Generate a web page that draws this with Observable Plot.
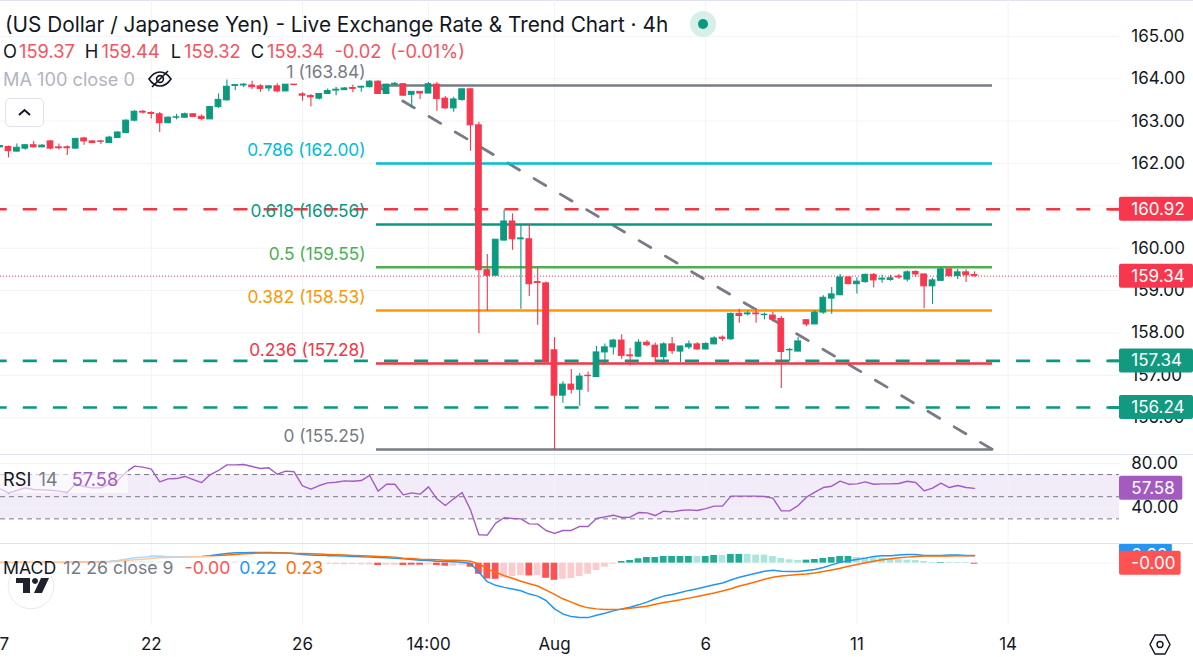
<!DOCTYPE html>
<html>
<head>
<meta charset="utf-8">
<script src="https://cdn.jsdelivr.net/npm/d3@7"></script>
<script src="https://cdn.jsdelivr.net/npm/@observablehq/plot@0.6"></script>
<style>
html,body{margin:0;padding:0;background:#fff;width:1193px;height:657px;overflow:hidden}
body{position:relative;font-family:Inter,"Noto Sans",sans-serif;color:#131722}
.pane{position:absolute;left:0;width:1193px}
.pane svg{display:block}
.t{position:absolute;white-space:nowrap;transform:translateY(-50%);line-height:1}
.sep{position:absolute;left:0;width:1193px;height:1px;background:#e0e3eb}
.d{color:#131722}
</style>
</head>
<body>
<div class="sep" style="top:0"></div>
<div id="price" class="pane" style="top:0"></div>
<div id="rsi" class="pane" style="top:455px"></div>
<div id="macd" class="pane" style="top:544px"></div>
<div class="sep" style="top:454px"></div>
<div class="sep" style="top:543px"></div>

<div class="t" style="left:5px;top:25px;font-size:20.8px">(US Dollar / Japanese Yen) - Live Exchange Rate &amp; Trend Chart · 4h</div>
<svg style="position:absolute;left:689px;top:10px" width="28" height="28"><circle cx="14" cy="14" r="13" fill="#d6efe9"/><circle cx="14" cy="14" r="5" fill="#089981"/></svg>
<div class="t" style="left:3px;top:51px;font-size:18.3px;color:#f7525f"><span class="d">O</span><span style="margin-left:2px">159.37</span><span class="d" style="margin-left:10px">H</span><span style="margin-left:3px">159.44</span><span class="d" style="margin-left:11px">L</span><span style="margin-left:3px">159.32</span><span class="d" style="margin-left:10px">C</span><span style="margin-left:3px">159.34</span><span style="margin-left:10px">-0.02</span><span style="margin-left:9px">(-0.01%)</span></div>
<div class="t" style="left:3px;top:79px;font-size:18.2px;color:#b2b5be">MA 100 close 0</div>
<svg style="position:absolute;left:147px;top:69px" width="26" height="20" fill="none" stroke="#131722" stroke-width="1.6"><path d="M2 10C6 4 10 3 13 3s7 1 11 7c-4 6-8 7-11 7s-7-1-11-7Z"/><circle cx="13" cy="10" r="3.4"/><path d="M5 18 21 2"/></svg>
<div style="position:absolute;left:5px;top:98px;width:37px;height:27px;border:1px solid #e0e3eb;border-radius:5px;background:#fff"></div>
<svg style="position:absolute;left:5px;top:98px" width="39" height="29" fill="none" stroke="#131722" stroke-width="2"><path d="M14 17 19.500 12 25 17"/></svg>
<div style="position:absolute;left:0;top:465px;width:128px;height:28px;background:rgba(255,255,255,.62)"></div>
<div class="t" style="left:3px;top:478.500px;font-size:18.3px;color:#787b86"><span class="d">RSI</span><span style="margin-left:7px">14</span><span style="margin-left:14px;color:#a35bc0">57.58</span></div>
<svg style="position:absolute;left:7px;top:562px" width="48" height="48"><circle cx="24" cy="24" r="22.8" fill="#fff" stroke="#e8eaee" stroke-width="1"/><path d="M9 16h14v15h-7V21H9Z M28 16a3 3 0 1 0 .01 0Z" fill="#1e222d"/><path d="M34 16h8l-7 15h-8Z" fill="#1e222d"/></svg>
<div style="position:absolute;left:0;top:556px;width:327px;height:20px;background:rgba(255,255,255,.62)"></div>
<div class="t" style="left:3px;top:567.500px;font-size:17.7px;color:#787b86"><span class="d">MACD</span><span style="margin-left:7px">12 26 close 9</span><span style="margin-left:11px;color:#ff5252">-0.00</span><span style="margin-left:9px;color:#2196f3">0.22</span><span style="margin-left:9px;color:#ff6d00">0.23</span></div>
<svg style="position:absolute;left:1149px;top:633px" width="22" height="23" fill="none" stroke="#131722" stroke-width="1.4"><path d="M6 2h10l5 9.500-5 9.500H6l-5-9.500Z"/><circle cx="11" cy="11.500" r="3"/></svg>

<script>
// 4h candles, first entry is the bar partly off the left edge
const opens=[162.38,162.39,162.28,162.35,162.43,162.38,162.52,162.38,162.38,162.35,162.59,162.52,162.52,162.48,162.60,162.72,163.01,163.22,163.19,163.16,162.95,163.08,163.08,163.16,163.10,163.04,163.33,163.49,163.83,163.84,163.84,163.82,163.77,163.82,163.70,163.86,163.63,163.59,163.53,163.64,163.72,163.73,163.78,163.79,163.80,163.93,163.64,163.86,163.87,163.62,163.69,163.65,163.86,163.53,163.30,163.50,163.75,162.90,159.48,159.35,160.18,160.63,160.21,160.21,159.20,159.17,157.59,156.52,156.78,156.66,156.99,156.96,157.54,157.66,157.82,157.47,157.44,157.77,157.70,157.43,157.73,157.56,157.66,157.73,157.61,157.73,157.89,157.85,158.45,158.44,158.46,158.42,158.41,158.33,157.59,157.56,158.30,158.20,158.48,158.81,158.89,159.31,159.15,159.20,159.37,159.26,159.25,159.33,159.26,159.44,159.38,159.10,159.23,159.50,159.34,159.43,159.37];
const highs=[162.42,162.41,162.46,162.45,162.52,162.45,162.54,162.46,162.42,162.59,162.62,162.54,162.55,162.64,162.75,163.03,163.25,163.25,163.22,163.20,163.10,163.16,163.19,163.18,163.15,163.35,163.64,163.97,163.86,163.89,163.94,163.86,163.84,163.88,163.86,163.86,163.67,163.63,163.65,163.76,163.80,163.79,163.85,163.82,163.96,163.95,163.87,163.91,163.88,163.70,163.70,163.91,163.91,163.58,163.56,163.76,163.76,162.97,159.85,160.20,160.89,160.81,160.56,160.56,159.52,159.20,157.89,156.85,157.14,157.04,157.08,157.68,157.74,157.85,157.96,157.63,157.84,157.82,157.76,157.77,157.89,157.69,157.81,157.77,157.77,157.91,157.93,158.47,158.56,158.51,158.57,158.47,158.48,158.39,157.63,157.89,158.31,158.53,158.88,159.07,159.38,159.32,159.30,159.39,159.40,159.36,159.36,159.38,159.47,159.47,159.39,159.29,159.54,159.51,159.50,159.49,159.44];
const lows=[162.37,162.13,162.27,162.31,162.37,162.37,162.32,162.32,162.19,162.35,162.43,162.47,162.45,162.47,162.59,162.71,162.98,163.17,163.05,162.73,162.94,163.03,163.08,163.09,163.01,163.04,163.30,163.47,163.72,163.79,163.74,163.68,163.69,163.67,163.70,163.85,163.47,163.33,163.50,163.63,163.60,163.72,163.67,163.68,163.78,163.63,163.63,163.82,163.58,163.30,163.51,163.65,163.23,163.28,163.21,163.47,162.29,157.98,158.51,159.35,160.17,159.95,158.56,158.86,158.18,157.32,155.24,156.34,156.56,156.27,156.60,156.95,157.25,157.48,157.38,157.22,157.43,157.68,157.29,157.28,157.49,157.30,157.61,157.59,157.60,157.72,157.80,157.82,158.23,158.40,158.23,158.31,158.26,156.69,157.33,157.55,158.15,158.20,158.44,158.44,158.88,159.14,158.92,159.17,159.06,159.17,159.22,159.26,159.20,159.32,158.57,158.67,159.22,159.33,159.26,159.19,159.32];
const closes=[162.41,162.29,162.37,162.43,162.38,162.42,162.35,162.36,162.36,162.58,162.52,162.48,162.51,162.61,162.73,163.01,163.22,163.20,163.17,162.95,163.08,163.09,163.16,163.10,163.05,163.33,163.50,163.81,163.85,163.86,163.80,163.76,163.82,163.70,163.86,163.85,163.60,163.56,163.64,163.71,163.74,163.77,163.76,163.81,163.93,163.64,163.86,163.88,163.60,163.69,163.65,163.87,163.52,163.30,163.51,163.75,162.90,159.48,159.35,160.20,160.63,160.21,160.23,159.15,159.18,157.32,156.52,156.78,156.66,156.97,156.98,157.54,157.66,157.82,157.46,157.45,157.77,157.71,157.43,157.73,157.57,157.68,157.73,157.61,157.74,157.87,157.86,158.45,158.40,158.46,158.44,158.43,158.32,157.55,157.60,157.80,158.20,158.48,158.83,158.91,159.31,159.15,159.21,159.37,159.24,159.28,159.29,159.31,159.43,159.38,159.10,159.24,159.50,159.34,159.43,159.36,159.34];

const rsiValues=[57.1,53.5,55.6,58.0,56.5,56.2,55.9,55.0,53.8,61.6,59.2,58.0,58.0,61.6,64.6,72.2,77.6,76.7,74.9,63.4,66.1,66.4,68.3,65.5,62.8,69.8,73.7,78.8,78.8,79.1,77.3,75.5,76.1,70.3,73.1,72.5,59.8,56.8,60.1,62.5,63.1,64.3,64.0,64.6,69.2,55.0,61.3,61.3,51.7,53.5,52.3,58.9,48.1,42.1,48.1,53.8,38.1,15.6,15.3,26.1,31.0,30.3,30.0,25.5,25.2,19.5,16.8,19.5,19.5,23.1,23.1,30.3,31.8,33.3,31.2,31.5,35.7,35.4,33.0,36.9,36.3,37.5,38.1,37.5,39.3,41.5,41.5,50.5,50.5,50.5,50.5,50.2,48.7,37.2,37.2,42.0,49.6,54.1,58.3,59.5,64.0,61.3,61.6,63.4,61.3,61.6,61.6,61.9,64.0,62.8,55.3,57.7,62.2,58.3,60.1,58.3,57.58];

const macdLine=[.03,.03,.03,.03,.03,.03,.03,.03,.03,.04,.04,.04,.05,.06,.08,.12,.16,.18,.20,.20,.19,.19,.19,.19,.20,.22,.26,.29,.31,.31,.32,.32,.32,.31,.30,.29,.26,.24,.23,.22,.22,.21,.20,.19,.18,.17,.16,.15,.13,.11,.09,.08,.06,.05,.04,.03,-.01,-.27,-.55,-.66,-.72,-.77,-.82,-.92,-.98,-1.11,-1.36,-1.51,-1.59,-1.62,-1.62,-1.55,-1.49,-1.42,-1.36,-1.31,-1.24,-1.16,-1.06,-.98,-.93,-.87,-.81,-.76,-.70,-.64,-.59,-.50,-.42,-.36,-.30,-.24,-.21,-.24,-.25,-.25,-.22,-.19,-.13,-.05,.03,.07,.11,.15,.20,.22,.22,.24,.26,.26,.23,.23,.23,.24,.24,.23,.22];
const signalLine=[.02,.02,.02,.02,.02,.02,.02,.02,.02,.03,.03,.03,.03,.04,.06,.08,.10,.12,.14,.16,.17,.18,.18,.19,.19,.20,.22,.24,.26,.28,.29,.30,.30,.30,.30,.29,.29,.28,.27,.26,.25,.24,.23,.22,.21,.20,.19,.18,.15,.14,.12,.11,.10,.09,.09,.08,.06,-.02,-.17,-.27,-.37,-.45,-.54,-.61,-.68,-.80,-.93,-1.06,-1.16,-1.26,-1.33,-1.36,-1.38,-1.38,-1.37,-1.34,-1.31,-1.28,-1.22,-1.17,-1.13,-1.09,-1.04,-.99,-.94,-.89,-.83,-.76,-.68,-.62,-.55,-.48,-.42,-.38,-.36,-.34,-.32,-.29,-.25,-.20,-.15,-.09,-.04,.01,.06,.10,.13,.16,.18,.20,.21,.21,.21,.21,.22,.22,.23];
const histogram=[.01,.01,.01,.01,.01,.01,.01,.01,.01,.01,.01,.01,.01,.02,.02,.04,.06,.06,.06,.04,.02,.01,.01,.01,.01,.02,.04,.05,.05,.03,.03,.02,.02,.01,.01,.01,-.02,-.03,-.04,-.04,-.04,-.05,-.04,-.05,-.05,-.07,-.06,-.06,-.07,-.06,-.06,-.05,-.07,-.09,-.09,-.07,-.12,-.33,-.47,-.48,-.44,-.40,-.37,-.38,-.37,-.45,-.51,-.48,-.46,-.40,-.33,-.22,-.12,-.03,.05,.08,.13,.17,.17,.20,.20,.20,.20,.20,.20,.23,.23,.26,.26,.26,.24,.24,.20,.14,.10,.08,.09,.11,.14,.17,.20,.20,.17,.16,.16,.14,.12,.10,.09,.08,.05,.02,.02,.02,.02,.02,-.03];
const histogramStrongBars=[44,47,48,49,51,52,55,56,57,58,62,64,65,73,74,75,76,77,78,79,80,81,83,84,86,87,95,96,97,98,99,100,111,115];

const fibLevels=[1,0.786,0.618,0.5,0.382,0.236,0];
const fibPrices=[163.84,162.00,160.56,159.55,158.53,157.28,155.25];
const fibColors=["#787b86","#00bcd4","#089981","#4caf50","#ff9800","#f23645","#787b86"];
const redLevels=[160.92];
const greenLevels=[157.34,156.24];
const lastPrice=159.34;
const priceTicks=[165,164,163,162,160,159,158,157,156];
const gridPrices=[165,164,163,162,161,160,159,158,157,156];
const rsiTicks=[80,40];
const rsiBands=[70,50,30];
const dateBars=[17,35,50,65,83,101,119];
const dateLabels=["22","26","14:00","Aug","6","11","14"];

const RED="#f7374d", GREEN="#0a9a80", GRID="#f2f3f7";
const W=1193;
const xDomain=[-0.952,141.07];
const paneEnd=132.26, axisStub=131.07, labelEnd=42.5, fibStart=43.81, fibEnd=117.14, textStart=133.67;
const font="Inter, 'Noto Sans', sans-serif";

const bars=opens.map((o,i)=>({k:i-1,o,h:highs[i],l:lows[i],c:closes[i],top:Math.max(o,closes[i]),bot:Math.min(o,closes[i])}));
const up=bars.filter(d=>d.c>=d.o), down=bars.filter(d=>d.c<d.o);
const fib=fibLevels.map((lv,i)=>({lv,p:fibPrices[i],col:fibColors[i],label:`${lv} (${fibPrices[i].toFixed(2)})`}));
const candle=(arr,col)=>[
  Plot.ruleX(arr,{x:"k",y1:"l",y2:"h",stroke:col,strokeWidth:1.1}),
  Plot.rect(arr,{x1:d=>d.k-.34,x2:d=>d.k+.34,y1:"bot",y2:"top",fill:col,stroke:col,strokeWidth:1})
];
const badge=(v,txt,col,half,end=141.07)=>[
  Plot.rect([v],{x1:paneEnd,x2:end,y1:d=>d-half,y2:d=>d+half,fill:col,rx:2}),
  Plot.text([txt],{x:textStart,y:v,text:d=>d,fill:"#fff",fontSize:17,textAnchor:"start"})
];
const base={width:W,marginTop:0,marginRight:0,marginBottom:0,marginLeft:0,style:{fontFamily:font,background:"transparent",overflow:"visible"}};
const axisText=(vals,fmt)=>Plot.text(vals,{x:textStart,y:d=>d,text:fmt,fill:"#131722",fontSize:17,textAnchor:"start"});

const pricePlot=Plot.plot({...base,height:454,
  x:{domain:xDomain,axis:null},y:{domain:[155.131,165.846],axis:null},
  marks:[
    Plot.ruleY(gridPrices,{x1:xDomain[0],x2:paneEnd,stroke:GRID,strokeWidth:1}),
    Plot.ruleX(dateBars,{stroke:GRID,strokeWidth:1}),
    Plot.ruleY([lastPrice],{x1:xDomain[0],x2:paneEnd,stroke:RED,strokeWidth:1,strokeDasharray:"1,2"}),
    Plot.ruleY(redLevels,{x1:xDomain[0],x2:paneEnd,stroke:"#f23645",strokeWidth:2.6,strokeDasharray:"14,16.1",strokeDashoffset:7.3}),
    Plot.ruleY(greenLevels,{x1:xDomain[0],x2:paneEnd,stroke:"#089981",strokeWidth:2.6,strokeDasharray:"14,16.1",strokeDashoffset:7.3}),
    Plot.ruleY(redLevels,{x1:axisStub,x2:paneEnd,stroke:"#f23645",strokeWidth:2.6}),
    Plot.ruleY(greenLevels,{x1:axisStub,x2:paneEnd,stroke:"#089981",strokeWidth:2.6}),
    Plot.line([{k:fibStart,p:163.84},{k:fibEnd,p:155.25}],{x:"k",y:"p",stroke:"#787b86",strokeWidth:2.8,strokeDasharray:"13.5,17",strokeDashoffset:0}),
    ...fib.map(f=>Plot.ruleY([f.p],{x1:fibStart,x2:fibEnd,stroke:f.col,strokeWidth:2.6})),
    Plot.text(fib,{x:labelEnd,y:"p",dy:-13,text:"label",fill:"col",fontSize:17.3,textAnchor:"end"}),
    ...candle(up,GREEN),...candle(down,RED),
    axisText(priceTicks,d=>d.toFixed(2)),
    ...badge(160.92,"160.92","#f7374d",.283),
    ...badge(159.34,"159.34","#f7374d",.283),
    ...badge(157.34,"157.34","#129a80",.283),
    ...badge(156.24,"156.24","#129a80",.283)
  ]});
document.getElementById("price").append(pricePlot);

const rsiData=rsiValues.map((v,i)=>({k:i-1,v}));
const rsiPlot=Plot.plot({...base,height:89,
  x:{domain:xDomain,axis:null},y:{domain:[6.83,87.23],axis:null},
  marks:[
    Plot.rect([0],{x1:xDomain[0],x2:paneEnd,y1:30,y2:70,fill:"#f2ecf8"}),
    Plot.ruleX(dateBars,{stroke:GRID,strokeWidth:1}),
    Plot.ruleY(rsiTicks,{x1:xDomain[0],x2:paneEnd,stroke:GRID,strokeWidth:1}),
    Plot.ruleY(rsiBands,{x1:xDomain[0],x2:paneEnd,stroke:"#787b86",strokeWidth:1,strokeDasharray:"5,4"}),
    Plot.line(rsiData,{x:"k",y:"v",stroke:"#a35bc0",strokeWidth:1.4}),
    axisText(rsiTicks,d=>d.toFixed(2)),
    ...badge(57.58,"57.58","#a35bc0",10.84,139.8)
  ]});
document.getElementById("rsi").append(rsiPlot);

const macdData=macdLine.map((v,i)=>({k:i-1,m:v,s:signalLine[i],h:histogram[i]}));
const strong=new Set(histogramStrongBars);
const histSet=(pred,col)=>Plot.rect(macdData.filter(pred),{x1:d=>d.k-.4,x2:d=>d.k+.4,y1:0,y2:"h",fill:col});
const macdPlot=Plot.plot({...base,height:113,
  x:{domain:xDomain,axis:null},y:{domain:[-2.807,.5557],axis:null},
  marks:[
    Plot.ruleX(dateBars,{y1:-1.855,y2:.5557,stroke:GRID,strokeWidth:1}),
    Plot.ruleY([0],{x1:xDomain[0],x2:paneEnd,stroke:GRID,strokeWidth:1}),
    histSet(d=>d.h>=0&&strong.has(d.k),"#22ab94"),
    histSet(d=>d.h>=0&&!strong.has(d.k),"#ace5dc"),
    histSet(d=>d.h<0&&strong.has(d.k),"#ff5252"),
    histSet(d=>d.h<0&&!strong.has(d.k),"#fccbcd"),
    Plot.line(macdData,{x:"k",y:"m",stroke:"#2196f3",strokeWidth:1.5}),
    Plot.line(macdData,{x:"k",y:"s",stroke:"#ff6d00",strokeWidth:1.5}),
    ...badge(.22,"0.22","#2196f3",.357,138.55),
    ...badge(0,"-0.00","#ff5252",.357,139.6),
    Plot.text(dateBars.map((k,i)=>({k,l:dateLabels[i]})),{x:"k",y:-2.42,text:"l",fill:"#131722",fontSize:17,fontWeight:d=>d.l==="Aug"?700:400}),
    Plot.text(["7"],{x:-.5,y:-2.42,text:d=>d,fill:"#131722",fontSize:17})
  ]});
document.getElementById("macd").append(macdPlot);
</script>
</body>
</html>
